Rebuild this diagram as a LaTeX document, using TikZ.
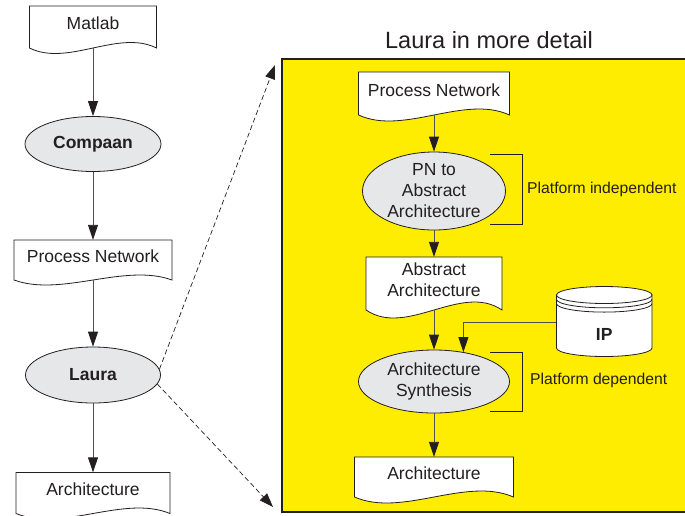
\documentclass[tikz,border=0pt]{standalone}
\usepackage{fontspec}
\setmainfont{Liberation Sans}
\usetikzlibrary{arrows.meta,shapes.geometric,calc}

\definecolor{ink}{HTML}{231F20}
\definecolor{linegray}{HTML}{505050}
\definecolor{panel}{HTML}{FFED00}
\definecolor{ellfill}{HTML}{E6E7E8}

\newcommand\fsmain{\fontsize{17.5}{21}\selectfont}
\newcommand\fslabel{\fontsize{15.7}{19}\selectfont}
\newcommand\fstitle{\fontsize{23.5}{28}\selectfont}

% document symbol: name, centre x, centre y, width, height, wave amplitude, text
\newcommand\docnode[7]{%
  \draw[docline] ({#2-#4/2},{#3-#5/2}) -- ({#2+#4/2},{#3-#5/2}) -- ({#2+#4/2},{#3+#5/2})
    .. controls ({#2+#4/2-0.3*#4},{#3+#5/2-3.46*#6}) and ({#2-#4/2+0.3*#4},{#3+#5/2+3.46*#6})
    .. ({#2-#4/2},{#3+#5/2}) -- cycle;
  \node[doc, minimum width=#4, minimum height={#5-7}] (#1) at (#2,{#3-3.5}) {#7};
}

\begin{document}
\begin{tikzpicture}[x=1pt,y=-1pt,
  every node/.style={text=ink, font=\fsmain},
  doc/.style={rectangle, inner sep=0pt, align=center},
  docline/.style={draw=ink, fill=white, line width=0.8pt},
  proc/.style={ellipse, draw=ink, fill=ellfill, line width=0.8pt, inner sep=0pt, align=center},
  conn/.style={draw=linegray, line width=0.9pt, -{Triangle[length=15pt,width=10pt,color=ink,fill=ink]}},
  zoomline/.style={draw=ink, line width=0.7pt, dash pattern=on 5pt off 3pt,
    -{Triangle[length=14pt,width=10pt,color=ink,fill=ink]}},
  bracket/.style={draw=ink, line width=0.8pt},
  note/.style={anchor=west, inner sep=0pt, font=\fslabel},
]
\useasboundingbox (0,0) rectangle (685,515);

% detail panel
\fill[panel] (282,59) rectangle (700,512);
\draw[ink, line width=1.3pt] (700,59) -- (282,59) -- (282,512) -- (700,512);
\node[font=\fstitle] (title) at (489,40) {Laura in more detail};

% overall flow
\docnode{matlab}{93}{27}{127}{42}{5.5}{Matlab}
\node[proc, minimum width=136, minimum height=55] (compaan) at (93,144) {\bfseries Compaan};
\docnode{pnL}{93}{260}{158}{40}{5}{Process Network}
\node[proc, minimum width=135, minimum height=56] (laura) at (93,375) {\bfseries Laura};
\docnode{archL}{93}{493}{154}{41}{5.5}{Architecture}

\draw[conn, shorten <=7pt] (matlab.south) -- (compaan);
\draw[conn] (compaan) -- (pnL);
\draw[conn, shorten <=7pt] (pnL.south) -- (laura);
\draw[conn] (laura) -- (archL);

% Laura internals
\docnode{pnR}{434}{93.5}{151}{43}{6}{Process Network}
\node[proc, minimum width=143, minimum height=78] (pnaa) at (434,191) {PN to\\Abstract\\Architecture};
\docnode{aa}{434}{283.5}{136}{53}{8}{Abstract\\Architecture}
\node[proc, minimum width=151, minimum height=63] (synth) at (434,381.5) {Architecture\\Synthesis};
\docnode{archR}{434}{477}{159}{40}{6}{Architecture}

\draw[conn, shorten <=7pt] (pnR.south) -- (pnaa);
\draw[conn] (pnaa) -- (aa);
\draw[conn, shorten <=7pt] (aa.south) -- (synth);
\draw[conn] (synth) -- (archR);

% IP library (cylinder)
\filldraw[docline] (556.5,295) -- (556.5,348)
  arc[start angle=180, end angle=0, x radius=47.75, y radius=8.5] -- (652,295) -- cycle;
\filldraw[docline] (604.25,295) ellipse[x radius=47.75, y radius=8.5];
\draw[ink, line width=0.8pt] (556.5,299.3) arc[start angle=180, end angle=0, x radius=47.75, y radius=8.5];
\draw[ink, line width=0.8pt] (556.5,303.6) arc[start angle=180, end angle=0, x radius=47.75, y radius=8.5];
\node[font=\fsmain\bfseries, minimum width=95.5, minimum height=40, inner sep=0pt] (ip) at (604.25,334) {IP};
\draw[conn] ([yshift=12pt]ip.west) -| (synth.45);

% platform brackets
\draw[bracket] (490,154) -- (522,154) -- (522,224) -- (490,224);
\node[note] (indep) at (527,189) {Platform independent};
\draw[bracket] (490,352) -- (522,352) -- (522,411) -- (490,411);
\node[note] (dep) at (530,380) {Platform dependent};

% zoom lines from Laura to the detail panel
\coordinate (zt) at (275,65);
\coordinate (zb) at (273,507);
\draw[zoomline] (laura.5) -- (zt);
\draw[zoomline] (laura.-8) -- (zb);
\end{tikzpicture}
\end{document}
